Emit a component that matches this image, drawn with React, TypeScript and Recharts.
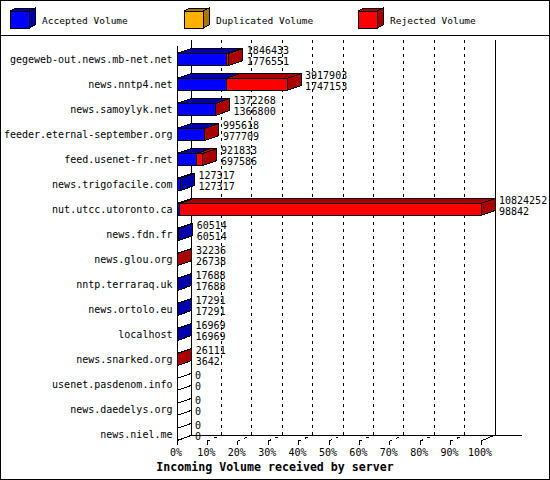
import { BarChart, Bar, XAxis, YAxis, CartesianGrid, Legend, LabelList } from "recharts";

document.body.style.margin = "0";

const HOSTS = [
  "gegeweb-out.news.mb-net.net",
  "news.nntp4.net",
  "news.samoylyk.net",
  "feeder.eternal-september.org",
  "feed.usenet-fr.net",
  "news.trigofacile.com",
  "nut.utcc.utoronto.ca",
  "news.fdn.fr",
  "news.glou.org",
  "nntp.terraraq.uk",
  "news.ortolo.eu",
  "localhost",
  "news.snarked.org",
  "usenet.pasdenom.info",
  "news.daedelys.org",
  "news.niel.me",
];
const TOTAL = [1846433, 3917903, 1372268, 995618, 921833, 127317, 10824252, 60514, 32236, 17688, 17291, 16969, 26111, 0, 0, 0];
const ACCEPTED = [1776551, 1747153, 1366800, 977709, 697586, 127317, 98842, 60514, 26738, 17688, 17291, 16969, 3642, 0, 0, 0];
const DUPLICATED = [0, 0, 0, 0, 0, 0, 0, 0, 0, 0, 0, 0, 0, 0, 0, 0];
const REJECTED = [69882, 2170750, 5468, 17909, 224247, 0, 10725410, 0, 5498, 0, 0, 0, 22469, 0, 0, 0];
const TICK_PCT = [0, 10, 20, 30, 40, 50, 60, 70, 80, 90, 100];

const MAX = Math.max(...TOTAL);
const data = HOSTS.map((host, i) => ({
  host,
  total: TOTAL[i],
  accepted: ACCEPTED[i],
  duplicated: DUPLICATED[i],
  rejected: REJECTED[i],
}));
const ticks = TICK_PCT.map((p) => (p / 100) * MAX);

const FONT = "'DejaVu Sans Mono', monospace";
const DX = 14; // depth of the 3d box
const DY = 6;
const BAR_DY = 5;
const LEFT = 177;
const RIGHT = 481;
const FRONT_TOP = 46;
const FRONT_BOTTOM = 441;

const SERIES = [
  { key: "accepted", name: "Accepted Volume", front: "#0000ff", dark: "#0000aa" },
  { key: "duplicated", name: "Duplicated Volume", front: "#ffb000", dark: "#aa7600" },
  { key: "rejected", name: "Rejected Volume", front: "#ff0000", dark: "#aa0000" },
];
const DARK: Record<string, string> = Object.fromEntries(SERIES.map((s) => [s.front, s.dark]));

function box(x: number, y: number, w: number, h: number, front: string, dark: string, dx = DX, dy = BAR_DY) {
  return (
    <g stroke="#000" strokeWidth={1} shapeRendering="crispEdges">
      <polygon points={`${x},${y} ${x + dx},${y - dy} ${x + w + dx},${y - dy} ${x + w},${y}`} fill={dark} />
      <polygon points={`${x + w},${y} ${x + w + dx},${y - dy} ${x + w + dx},${y + h - dy} ${x + w},${y + h}`} fill={dark} />
      <rect x={x} y={y} width={w} height={h} fill={front} />
    </g>
  );
}

const makeShape = (key: string, front: string, dark: string) => (props: any) => {
  const { x, y, width, height, payload } = props;
  if (payload[key] > 0) return box(x, y, width, height, front, dark);
  if (key === "accepted" && payload.total === 0) return box(x, y, 0, height, "#fff", "#fff");
  return <g />;
};

const ValueLabel = (props: any) => {
  const vb = props.viewBox ?? props;
  const row = data.find((d) => d.host === props.value);
  if (!row) return null;
  const tx = vb.x + vb.width + DX + 4;
  const cy = vb.y + vb.height / 2;
  return (
    <g fontFamily={FONT} fontSize={10} fill="#000">
      <text x={tx} y={cy - 9.5} dominantBaseline="central">{row.total}</text>
      <text x={tx} y={cy + 2} dominantBaseline="central">{row.accepted}</text>
    </g>
  );
};

const HostTick = (props: any) => (
  <text x={172.5} y={props.y} textAnchor="end" dominantBaseline="central" fontFamily={FONT} fontSize={10} fill="#000">
    {props.payload.value}
  </text>
);

const PctTick = (props: any) => {
  const x = props.x;
  const pct = Math.round((props.payload.value / MAX) * 100);
  return (
    <g stroke="#000" shapeRendering="crispEdges">
      <line x1={x} y1={FRONT_BOTTOM} x2={x} y2={FRONT_BOTTOM + 4} />
      <line x1={x} y1={FRONT_BOTTOM} x2={x + DX} y2={FRONT_BOTTOM - DY} strokeDasharray="3 4" />
      <line x1={x + DX} y1={FRONT_BOTTOM - DY} x2={x + DX} y2={FRONT_BOTTOM - DY - 3} />
      <text x={x - 1} y={452} textAnchor="middle" dominantBaseline="central" stroke="none" fontFamily={FONT} fontSize={10} fill="#000">
        {pct}%
      </text>
    </g>
  );
};

const gridLine = (p: any) => {
  const edge = Math.abs(p.x1 - LEFT) < 0.5 || Math.abs(p.x1 - RIGHT) < 0.5;
  return (
    <line
      key={p.key}
      x1={p.x1 + DX}
      x2={p.x2 + DX}
      y1={FRONT_TOP - DY}
      y2={FRONT_BOTTOM - DY}
      stroke="#000"
      strokeDasharray={edge ? undefined : "3 4"}
      shapeRendering="crispEdges"
    />
  );
};

const LegendContent = (props: any) => (
  <svg width={550} height={35} style={{ display: "block" }}>
    {(props.payload ?? []).map((e: any, i: number) => {
      const x0 = 10 + 174 * i;
      return (
        <g key={e.value}>
          {box(x0, 11, 19, 17, e.color, DARK[e.color] ?? e.color, 6, 3)}
          <text x={x0 + 32} y={20} dominantBaseline="central" fontFamily={FONT} fontSize={9.5} fill="#000">
            {e.value}
          </text>
        </g>
      );
    })}
  </svg>
);

export default function App() {
  return (
    <BarChart
      width={550}
      height={480}
      data={data}
      layout="vertical"
      barSize={12}
      margin={{ top: 46.5, right: 550 - RIGHT, bottom: 0, left: 0 }}
      style={{ background: "#fff" }}
    >
      <CartesianGrid horizontal={false} vertical={gridLine} />
      <XAxis
        type="number"
        domain={[0, MAX]}
        ticks={ticks}
        height={33.5}
        axisLine={false}
        tickLine={false}
        tick={<PctTick />}
        interval={0}
      />
      <YAxis type="category" dataKey="host" width={LEFT} axisLine={false} tickLine={false} tick={<HostTick />} interval={0} />
      <Legend
        layout="horizontal"
        verticalAlign="middle"
        align="center"
        wrapperStyle={{ top: 0, left: 0, width: 550, height: 35 }}
        content={<LegendContent />}
      />
      {SERIES.map((s) => (
        <Bar
          key={s.key}
          dataKey={s.key}
          name={s.name}
          stackId="vol"
          fill={s.front}
          isAnimationActive={false}
          shape={makeShape(s.key, s.front, s.dark)}
        >
          {s.key === "rejected" && <LabelList dataKey="host" content={<ValueLabel />} />}
        </Bar>
      ))}
      <g stroke="#000" fill="none" shapeRendering="crispEdges">
        <rect x={0.5} y={0.5} width={549} height={479} />
        <line x1={0} y1={35.5} x2={550} y2={35.5} />
        <line x1={LEFT} y1={FRONT_TOP} x2={LEFT} y2={FRONT_BOTTOM} />
        <line x1={LEFT + DX} y1={FRONT_TOP - DY} x2={LEFT + DX} y2={FRONT_BOTTOM - DY} />
        <line x1={RIGHT + DX} y1={FRONT_TOP - DY} x2={RIGHT + DX} y2={FRONT_BOTTOM - DY} />
        <line x1={LEFT + DX} y1={FRONT_BOTTOM - DY} x2={522} y2={FRONT_BOTTOM - DY} />
        <line x1={LEFT} y1={FRONT_BOTTOM} x2={LEFT + DX} y2={FRONT_BOTTOM - DY} />
        <line x1={RIGHT} y1={FRONT_BOTTOM} x2={RIGHT + DX} y2={FRONT_BOTTOM - DY} />
      </g>
      <text x={275} y={467} textAnchor="middle" dominantBaseline="central" fontFamily={FONT} fontSize={11.6} fontWeight="bold" fill="#000">
        Incoming Volume received by server
      </text>
    </BarChart>
  );
}
